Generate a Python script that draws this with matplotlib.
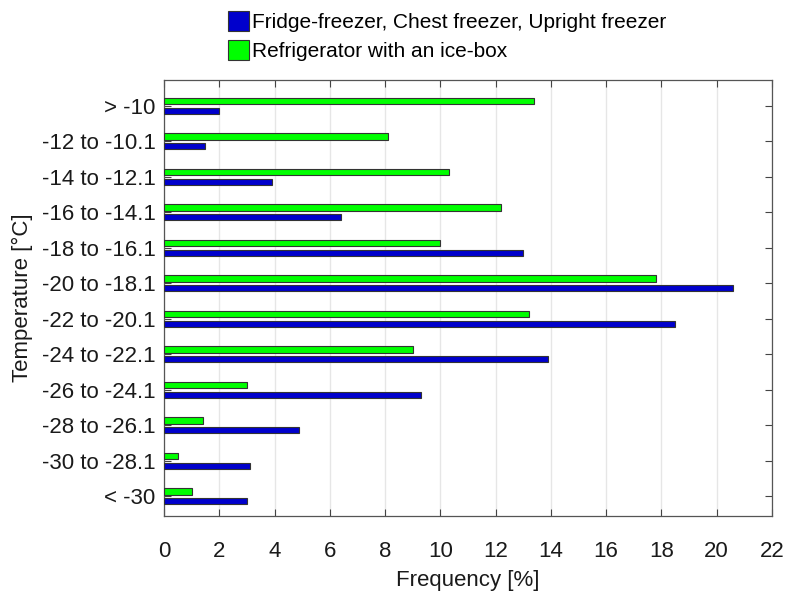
import matplotlib
matplotlib.use("Agg")
import matplotlib.pyplot as plt
import numpy as np

plt.rcParams['font.family'] = ['Liberation Sans', 'DejaVu Sans']

# Temperature bands, top to bottom as in the chart
categories = ['> -10', '-12 to -10.1', '-14 to -12.1', '-16 to -14.1',
              '-18 to -16.1', '-20 to -18.1', '-22 to -20.1', '-24 to -22.1',
              '-26 to -24.1', '-28 to -26.1', '-30 to -28.1', '< -30']
freezers = [2.0, 1.5, 3.9, 6.4, 13.0, 20.6, 18.5, 13.9, 9.3, 4.9, 3.1, 3.0]
icebox = [13.4, 8.1, 10.3, 12.2, 10.0, 17.8, 13.2, 9.0, 3.0, 1.4, 0.5, 1.0]
x_ticks = list(range(0, 23, 2))

label_freezers = 'Fridge-freezer, Chest freezer, Upright freezer'
label_icebox = 'Refrigerator with an ice-box'

fig = plt.figure(figsize=(7.89, 5.99), dpi=100)
ax = fig.add_axes([164 / 789, 1 - 516 / 599, 608 / 789, 436 / 599])

# bottom category at y=0
y = np.arange(len(categories))[::-1]
h = 0.18
off = 0.14

ax.barh(y + off, icebox, height=h, color='#00ff00', edgecolor='#333333',
        linewidth=0.8, label=label_icebox, zorder=3)
ax.barh(y - off, freezers, height=h, color='#0000cc', edgecolor='#333333',
        linewidth=0.8, label=label_freezers, zorder=3)

ax.set_xlim(0, 22)
ax.set_ylim(-0.555, 11.727)
ax.set_xticks(x_ticks)
ax.set_yticks(y)
ax.set_yticklabels(categories)
ax.grid(axis='x', color='#e6e6e6', linewidth=1, zorder=0)
ax.tick_params(direction='in', length=5, width=0.8, color='#444444',
               labelsize=16, top=True, right=True, labelcolor='#1a1a1a')
ax.tick_params(axis='x', pad=18)
ax.tick_params(axis='y', pad=6)
for sp in ax.spines.values():
    sp.set_color('#555555')
    sp.set_linewidth(0.9)

ax.set_xlabel('Frequency [%]', fontsize=16, color='#1a1a1a', labelpad=6)
ax.set_ylabel('Temperature [°C]', fontsize=16, color='#1a1a1a', labelpad=6)

handles, labels = ax.get_legend_handles_labels()
fig.legend(handles[::-1], labels[::-1], loc='upper left',
           bbox_to_anchor=(220 / 789, 1 - 3 / 599), frameon=False,
           fontsize=15, handlelength=1.0, handleheight=1.1,
           handletextpad=0.15, labelspacing=0.35, borderaxespad=0)

fig.savefig('out.png', dpi=100)
